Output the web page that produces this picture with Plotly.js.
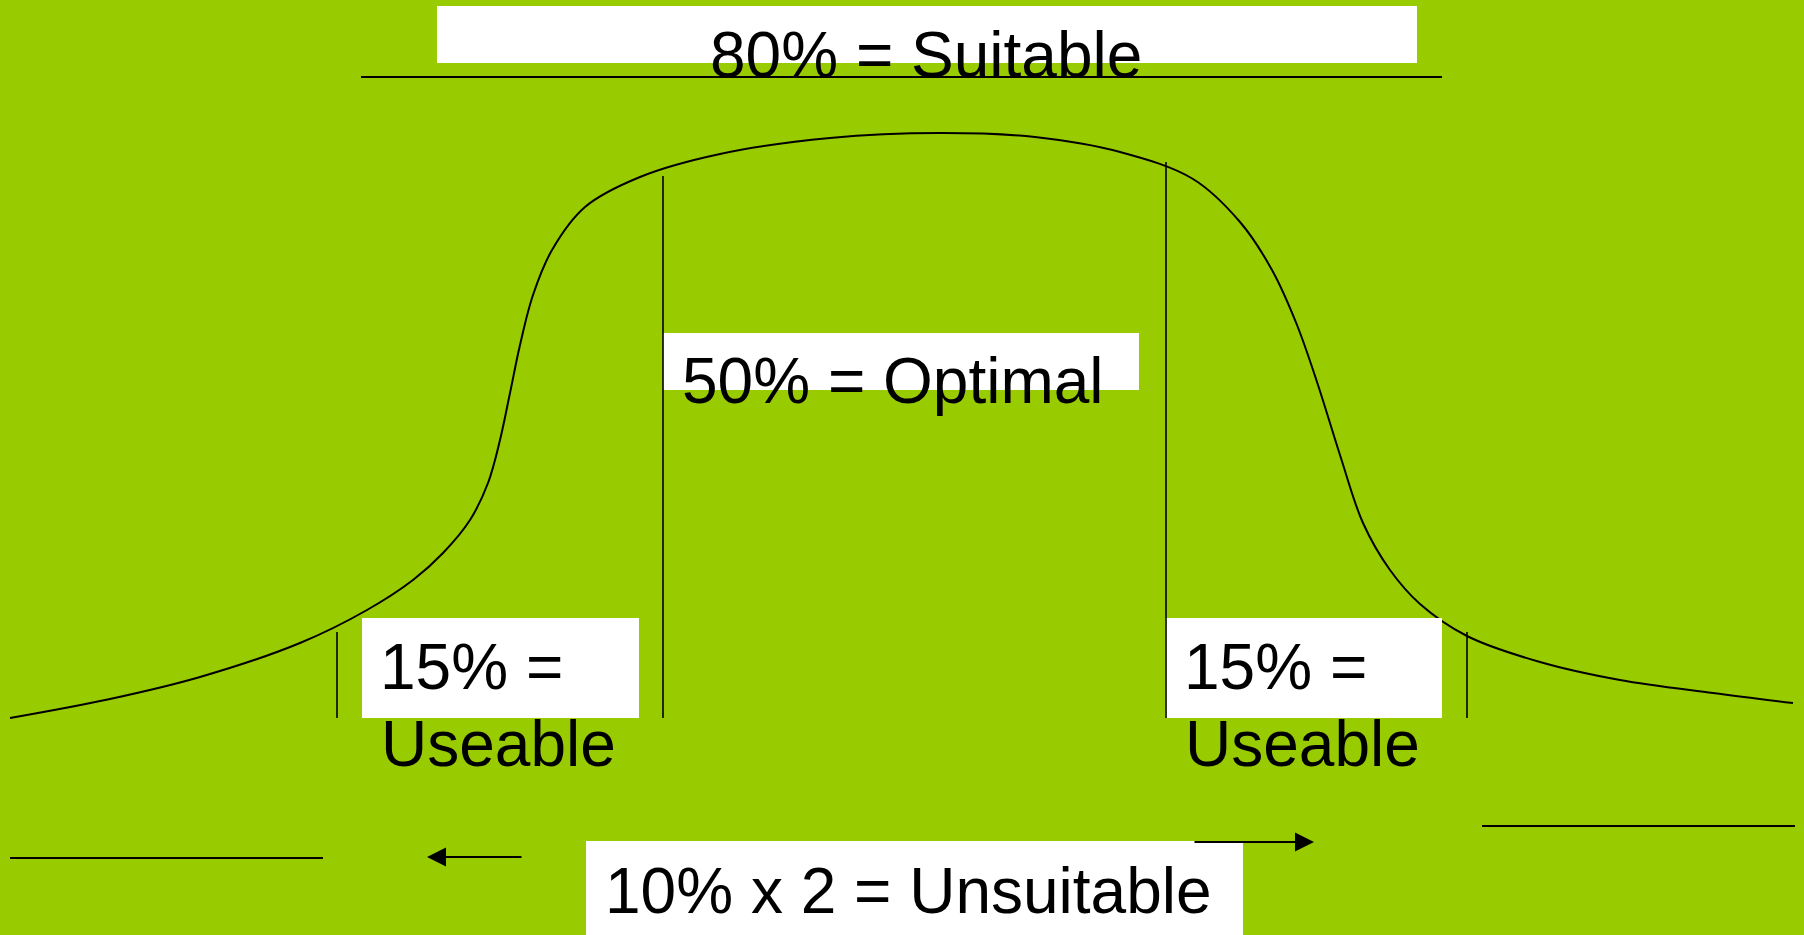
<!DOCTYPE html>
<html>
<head>
<meta charset="utf-8">
<script src="https://cdn.plot.ly/plotly-3.0.1.min.js"></script>
<style>html,body{margin:0;padding:0;background:#99CC00;}#chart{width:1804px;height:935px;}</style>
</head>
<body>
<div id="chart"></div>
<script>
// Curve (bell-shaped suitability curve) (pixel space)
const curveX = [10,110,200,300,367,413,443,470,488,500,510,520,533,552,585,640,720,830,940,1035,1120,1193,1240,1272,1297,1318,1340,1363,1390,1420,1467,1540,1620,1713,1793];
const curveY = [718,699,677,643,610,580,553,520,483,440,393,345,295,250,207,177,154,138,133,137,152,179,222,270,325,385,455,523,570,604,636,662,680,693,703];

// Labels
const labelTexts = ["80% = Suitable", "50% = Optimal", "15% =", "Useable", "15% =", "Useable", "10% x 2 = Unsuitable"];
const labelX = [710, 682, 380, 381, 1184, 1185, 605];
const labelY = [54.5, 381, 667, 743.5, 667, 743.5, 890.5];

// White label boxes [x0, y0, x1, y1]
const boxX0 = [437, 663, 362, 1165, 586];
const boxY0 = [6, 333, 618, 618, 841];
const boxX1 = [1417, 1139, 639, 1442, 1243];
const boxY1 = [63, 390, 718, 718, 935];

// Plain line segments
const segX0 = [361, 337, 663, 1166, 1467, 10, 1482];
const segY0 = [77, 632, 176, 162, 632, 858, 826];
const segX1 = [1442, 337, 663, 1166, 1467, 323, 1795];
const segY1 = [77, 718, 718, 718, 718, 858, 826];

// Arrows: tail -> tip
const arrTailX = [523, 1193];
const arrTailY = [857, 842];
const arrTipX = [427, 1314];
const arrTipY = [857, 842];

const FONT = "Liberation Sans, Arial, Helvetica, sans-serif";

const shapes = [];
for (let i = 0; i < boxX0.length; i++) {
  shapes.push({type: 'rect', xref: 'x', yref: 'y', x0: boxX0[i], y0: boxY0[i], x1: boxX1[i], y1: boxY1[i],
    fillcolor: '#FFFFFF', line: {width: 0}, layer: 'above'});
}
for (let i = 0; i < segX0.length; i++) {
  const vertical = segX0[i] === segX1[i];
  shapes.push({type: 'line', xref: 'x', yref: 'y', x0: segX0[i], y0: segY0[i], x1: segX1[i], y1: segY1[i],
    line: {color: '#000000', width: vertical ? 1.6 : 2}, layer: 'above'});
}

const annotations = [];
for (let i = 0; i < labelTexts.length; i++) {
  annotations.push({xref: 'x', yref: 'y', x: labelX[i], y: labelY[i], text: labelTexts[i],
    showarrow: false, xanchor: 'left', yanchor: 'middle', borderpad: 0, borderwidth: 0,
    font: {family: FONT, size: 64, color: '#000000'}});
}
for (let i = 0; i < arrTipX.length; i++) {
  annotations.push({xref: 'x', yref: 'y', axref: 'x', ayref: 'y', x: arrTipX[i], y: arrTipY[i],
    ax: arrTailX[i], ay: arrTailY[i], text: '', showarrow: true, arrowhead: 2, arrowsize: 1.9,
    arrowwidth: 2, arrowcolor: '#000000', standoff: 0, startstandoff: 0});
}

const traces = [{
  type: 'scatter', mode: 'lines', x: curveX, y: curveY,
  line: {color: '#000000', width: 2, shape: 'spline', smoothing: 1},
  hoverinfo: 'skip'
}];

const layout = {
  width: 1804, height: 935,
  margin: {l: 0, r: 0, t: 0, b: 0, pad: 0},
  paper_bgcolor: '#99CC00', plot_bgcolor: '#99CC00',
  showlegend: false,
  xaxis: {range: [0, 1804], visible: false, fixedrange: true},
  yaxis: {range: [935, 0], visible: false, fixedrange: true},
  shapes: shapes,
  annotations: annotations
};

Plotly.newPlot('chart', traces, layout, {displayModeBar: false, staticPlot: true});
</script>
</body>
</html>
